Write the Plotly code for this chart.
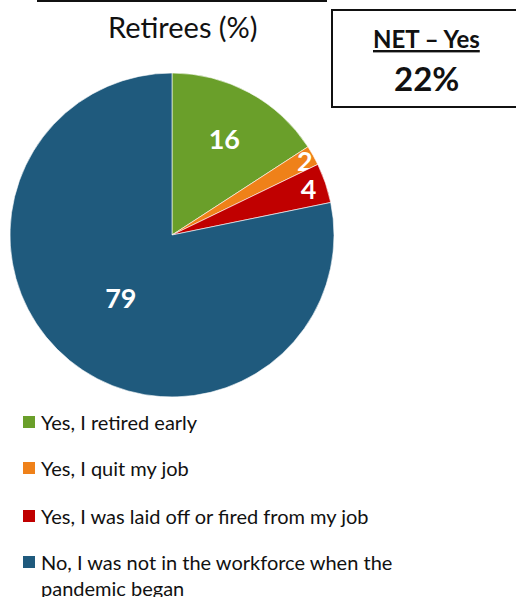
import plotly.graph_objects as go

W, H = 516, 597

labels = [
    "Yes, I retired early",
    "Yes, I quit my job",
    "Yes, I was laid off or fired from my job",
    "No, I was not in the workforce when the<br>pandemic began",
]
values = [16, 2, 4, 79]
colors = ["#6A9F2A", "#EF8119", "#C00000", "#1F5A7D"]
net_yes = "22%"

FONT = "Lato, 'Open Sans', sans-serif"


def px_x(x):
    return x / W


def px_y(y):
    return 1 - y / H


fig = go.Figure()
fig.add_trace(go.Pie(
    labels=labels, values=values, sort=False, direction="clockwise", rotation=0,
    marker=dict(colors=colors, line=dict(color="white", width=0.6)),
    text=[str(v) for v in values], textinfo="text", textposition="inside",
    insidetextorientation="horizontal",
    textfont=dict(family=FONT, size=27, color="white", weight="bold"),
    domain=dict(x=[px_x(10), px_x(334)], y=[px_y(397), px_y(73)]),
    showlegend=False, hoverinfo="label+value",
))

annotations = [
    dict(text="Retirees (%)", x=px_x(183), y=px_y(26), font=dict(size=29, color="#111")),
    dict(text="<u><b>NET – Yes</b></u>", x=px_x(426), y=px_y(38), font=dict(size=24, color="#111")),
    dict(text=f"<b>{net_yes}</b>", x=px_x(426), y=px_y(78), font=dict(size=33, color="#111")),
]
shapes = [
    # underline of the cut-off heading above
    dict(type="line", x0=px_x(37), x1=px_x(327), y0=px_y(1), y1=px_y(1),
         line=dict(color="#111", width=2)),
    dict(type="rect", x0=px_x(332), x1=1.1, y0=px_y(107), y1=px_y(10),
         line=dict(color="#111", width=2)),
]

# legend drawn by hand to match the spacing in the source
leg_y = [422, 468, 516, 562]
for lab, col, y in zip(labels, colors, leg_y):
    shapes.append(dict(type="rect", x0=px_x(23), x1=px_x(35), y0=px_y(y + 6), y1=px_y(y - 6),
                       fillcolor=col, line=dict(width=0)))
    annotations.append(dict(text=lab, x=px_x(39), y=px_y(y - 14), xanchor="left", yanchor="top",
                            align="left", font=dict(size=20, color="#111")))

for a in annotations:
    a.setdefault("xanchor", "center")
    a.setdefault("yanchor", "middle")
    a.update(xref="paper", yref="paper", showarrow=False)
    a["font"].setdefault("family", FONT)
for s in shapes:
    s.update(xref="paper", yref="paper")

fig.update_layout(
    width=W, height=H, margin=dict(l=0, r=0, t=0, b=0),
    paper_bgcolor="white", plot_bgcolor="white",
    annotations=annotations, shapes=shapes,
    uniformtext=dict(minsize=27, mode="show"),
    font=dict(family=FONT),
)

fig.write_html("out.html", config={"displayModeBar": False},
               post_script="document.body.style.margin='0';")
